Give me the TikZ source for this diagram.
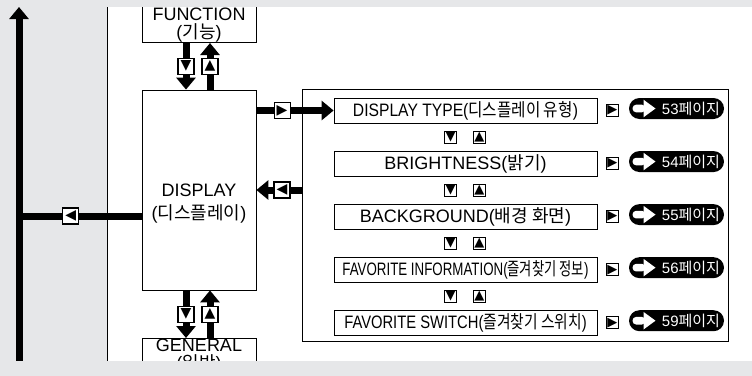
\documentclass[tikz,border=0pt]{standalone}
\usepackage{fontspec}
\setmainfont{Liberation Sans}
\newfontfamily\kr{Noto Sans CJK KR}
\newfontfamily\sym{DejaVu Sans}
\usetikzlibrary{arrows.meta,positioning,calc}
\definecolor{bggray}{RGB}{230,231,233}
\newcommand{\ko}[1]{{\kr #1}}
\newcommand{\sq}[2]{\scalebox{#1}[1]{#2}}

\begin{document}
\begin{tikzpicture}[
    x=1pt, y=-1pt,
    box/.style={rectangle, draw, fill=white, line width=0.8pt, minimum width=114pt, inner sep=0pt, align=center},
    item/.style={rectangle, draw, fill=white, line width=0.8pt, minimum width=263pt, minimum height=25pt, inner sep=0pt, font=\fontsize{18}{21}\selectfont},
    fat/.style={line width=7pt, -{Triangle[width=19pt,length=12pt]}},
    bar/.style={line width=7pt},
    ibox/.style={rectangle, draw, fill=white, line width=1.2pt, minimum size=16pt, inner sep=0pt, font=\sym\fontsize{14}{14}\selectfont},
    sbox/.style={rectangle, draw, fill=white, line width=0.9pt, minimum size=12pt, inner sep=0pt, font=\sym\fontsize{13}{13}\selectfont},
    pill/.style={fill=black, text=white, rounded corners=10.5pt, minimum width=95pt, minimum height=21pt, inner sep=0pt, text width=87pt, align=right, font=\fontsize{15}{15}\selectfont},
    pagearrow/.pic={
        \fill[white, rounded corners=3.6pt] (-44,-3.8) rectangle (-31,3.8);
        \fill[white] (-33,-8.8) -- (-21,0) -- (-33,8.8) -- cycle;
    }
]
    \useasboundingbox (0,0) rectangle (752,375);
    % background
    \fill[bggray] (-5,-5) rectangle (757,380);
    \fill[white] (107,7) rectangle (752,361);
    \draw[line width=0.8pt] (107,7) -- (107,361);

    % main column
    \node[box, anchor=south, minimum height=36pt, font=\fontsize{18}{18}\selectfont] (func) at (199,43) {FUNCTION\\(\ko{기능})};
    \node[box, minimum height=200pt] (disp) at (199,190) {};
    \node[align=center, inner sep=0pt, font=\fontsize{18}{23}\selectfont] (disptxt) at ([yshift=-14pt]disp.center) {DISPLAY\\(\ko{디스플레이})};
    \node[box, anchor=north, minimum height=36pt, font=\fontsize{18}{18}\selectfont] (gen) at (199,338) {GENERAL\\(\ko{일반})};

    % left axis
    \coordinate (axbot) at (19,375);
    \coordinate (axtop) at (19,7);
    \draw[fat] (axbot) -- (axtop);
    \draw[bar] ([yshift=-26pt]disp.west) -- node[ibox, pos=0.577] {◀} ([yshift=-26pt]disp.west -| axtop);

    % function / general
    \draw[fat] ([xshift=-13pt]func.south) -- node[ibox] {▼} ([xshift=-13pt]disp.north);
    \draw[fat] ([xshift=11pt]disp.north) -- node[ibox] {▲} ([xshift=11pt]func.south);
    \draw[fat] ([xshift=-13pt]disp.south) -- node[ibox] {▼} ([xshift=-13pt]gen.north);
    \draw[fat] ([xshift=11pt]gen.north) -- node[ibox] {▲} ([xshift=11pt]disp.south);

    % display submenu
    \node[rectangle, draw, line width=0.8pt, minimum width=426pt, minimum height=252pt, inner sep=0pt] (panel) at (515,215) {};
    \node[item] (type) at (465.5,110.5) {\sq{0.87}{DISPLAY TYPE(\ko{디스플레이 유형})}};
    \node[item, below=27.25pt of type] (bright) {BRIGHTNESS(\ko{밝기})};
    \node[item, below=27.25pt of bright] (backg) {BACKGROUND(\ko{배경 화면})};
    \node[item, below=27.25pt of backg] (favinfo) {\sq{0.74}{FAVORITE INFORMATION(\ko{즐겨찾기 정보})}};
    \node[item, below=27.25pt of favinfo] (favsw) {\sq{0.82}{FAVORITE SWITCH(\ko{즐겨찾기 스위치})}};

    \draw[fat] (disp.east |- type) -- node[ibox, pos=0.333] {▶} (type.west);
    \draw[fat] (disp.east -| panel.west) -- node[ibox, pos=0.435] {◀} (disp.east);

    % up / down keys
    \node[sbox] (dn1) at ($(type.south)!0.5!(bright.north)+(-15,0)$) {▼};
    \node[sbox, right=16pt of dn1] (up1) {▲};
    \node[sbox] (dn2) at ($(bright.south)!0.5!(backg.north)+(-15,0)$) {▼};
    \node[sbox, right=16pt of dn2] (up2) {▲};
    \node[sbox] (dn3) at ($(backg.south)!0.5!(favinfo.north)+(-15,0)$) {▼};
    \node[sbox, right=16pt of dn3] (up3) {▲};
    \node[sbox] (dn4) at ($(favinfo.south)!0.5!(favsw.north)+(-15,0)$) {▼};
    \node[sbox, right=16pt of dn4] (up4) {▲};

    % page references
    \node[sbox, right=8.5pt of type] (go1) {▶};
    \node[pill, right=10pt of go1, yshift=2pt] (pg1) {53\ko{페이지}};
    \node[sbox, right=8.5pt of bright] (go2) {▶};
    \node[pill, right=10pt of go2, yshift=2pt] (pg2) {54\ko{페이지}};
    \node[sbox, right=8.5pt of backg] (go3) {▶};
    \node[pill, right=10pt of go3, yshift=2pt] (pg3) {55\ko{페이지}};
    \node[sbox, right=8.5pt of favinfo] (go4) {▶};
    \node[pill, right=10pt of go4, yshift=2pt] (pg4) {56\ko{페이지}};
    \node[sbox, right=8.5pt of favsw] (go5) {▶};
    \node[pill, right=10pt of go5, yshift=2pt] (pg5) {59\ko{페이지}};
    \pic at (pg1.center) {pagearrow};
    \pic at (pg2.center) {pagearrow};
    \pic at (pg3.center) {pagearrow};
    \pic at (pg4.center) {pagearrow};
    \pic at (pg5.center) {pagearrow};

    % cut-off bands
    \fill[bggray] (-5,-5) rectangle (757,7);
    \fill[bggray] (-5,361) rectangle (757,380);
\end{tikzpicture}
\end{document}
